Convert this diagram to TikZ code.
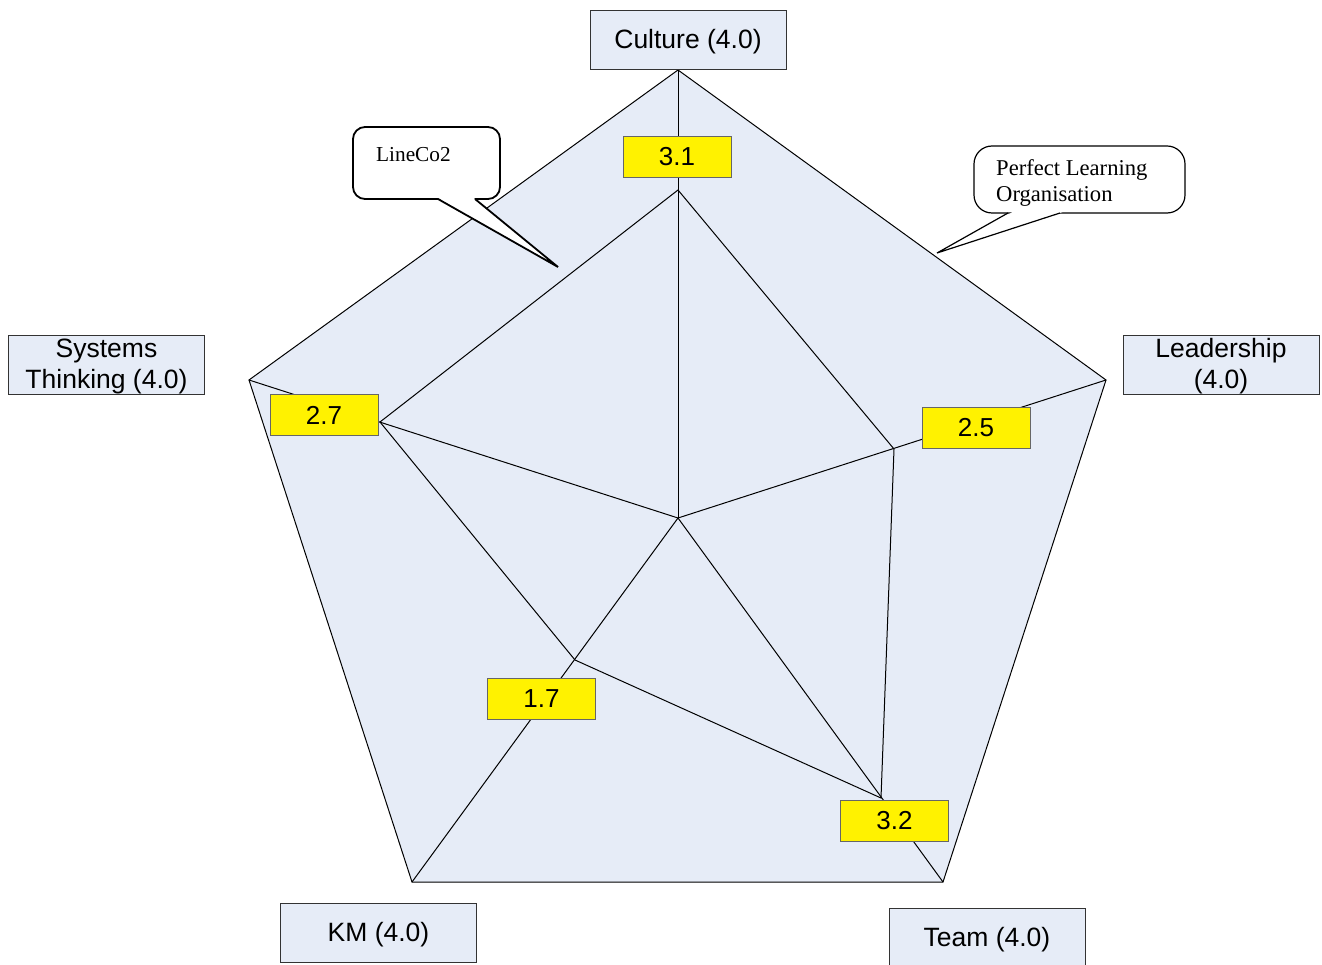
\documentclass[tikz,border=0pt]{standalone}
\usepackage{fontspec}
\setmainfont{Liberation Sans}
\newfontfamily\calloutfont{Liberation Serif}
\definecolor{paneblue}{HTML}{E6ECF7}
\begin{document}
\begin{tikzpicture}[x=1pt,y=-1pt,
  axisbox/.style={draw=black!80, line width=0.9pt, fill=paneblue,
    minimum width=196pt, minimum height=59pt, inner sep=0pt,
    label={[axistext]center:#1}},
  axistext/.style={inner sep=0pt, align=center, yshift=-2pt,
    font=\fontsize{26.5}{31}\selectfont},
  scorebox/.style={draw=black!60, line width=1pt, fill=yellow,
    minimum width=108pt, minimum height=41pt, inner sep=0pt,
    font=\fontsize{26}{30}\selectfont},
  web/.style={line width=1pt, draw=black},
  callout/.style={draw=black, fill=white},
  callouttext/.style={inner sep=0pt, align=left, font=\calloutfont\fontsize{22.6}{26}\selectfont},
]
\useasboundingbox (0,0) rectangle (1322,965);
\clip (0,0) rectangle (1322,965);

% centre and outer vertices of the radar pentagon
\coordinate (c)  at (678,518);
\coordinate (o1) at (678,70);
\coordinate (o2) at (1106,380);
\coordinate (o3) at (943,882);
\coordinate (o4) at (412,882);
\coordinate (o5) at (249,380);

% scores on each axis
\coordinate (d1) at (678,190);
\coordinate (d2) at (894,449);
\coordinate (d3) at (881,798);
\coordinate (d4) at (575,660);
\coordinate (d5) at (380,422);

% pentagon background
\filldraw[web, fill=paneblue] (o1) -- (o2) -- (o3) -- (o4) -- (o5) -- cycle;

% spokes
\foreach \v in {o1,o2,o3,o4,o5} \draw[web] (c) -- (\v);

% score polygon
\draw[web] (d1) -- (d2) -- (d3) -- (d4) -- (d5) -- cycle;

% callouts: rounded box first, then the pointer wedge over its bottom edge
\draw[callout, line width=1.8pt, rounded corners=12] (353,127) rectangle (500,199);
\fill[white] (431,194) -- (558,267) -- (469,194) -- cycle;
\draw[line width=1.8pt, line join=miter] (438,199) -- (558,267) -- (475,199);
\node[callouttext, anchor=base west, font=\calloutfont\fontsize{21.3}{25}\selectfont] (lc) at (376,162) {LineCo2};

\draw[callout, line width=1.2pt, rounded corners=18] (974,146) rectangle (1185,213);
\fill[white] (1020,208) -- (937,253) -- (1075,208) -- cycle;
\draw[line width=1.2pt, line join=miter] (1008,213) -- (937,253) -- (1060,213);
\node[callouttext, anchor=north west] (plo) at (996,159.5) {Perfect Learning\\Organisation};

% axis labels
\node[axisbox={Culture (4.0)}] (culture) at (688,39.5) {};
\node[axisbox={Systems\\Thinking (4.0)}] (systems) at (106.5,364.5) {};
\node[axisbox={Leadership\\(4.0)}] (leader) at (1221,364.5) {};
\node[axisbox={KM (4.0)}] (km) at (378.5,933) {};
\node[axisbox={Team (4.0)}] (team) at (987,937.5) {};

% score labels
\node[scorebox] (s1) at (677,157) {3.1};
\node[scorebox] (s2) at (976,428) {2.5};
\node[scorebox] (s3) at (894.5,820.5) {3.2};
\node[scorebox] (s4) at (541.5,698.5) {1.7};
\node[scorebox] (s5) at (324,415) {2.7};
\end{tikzpicture}
\end{document}
